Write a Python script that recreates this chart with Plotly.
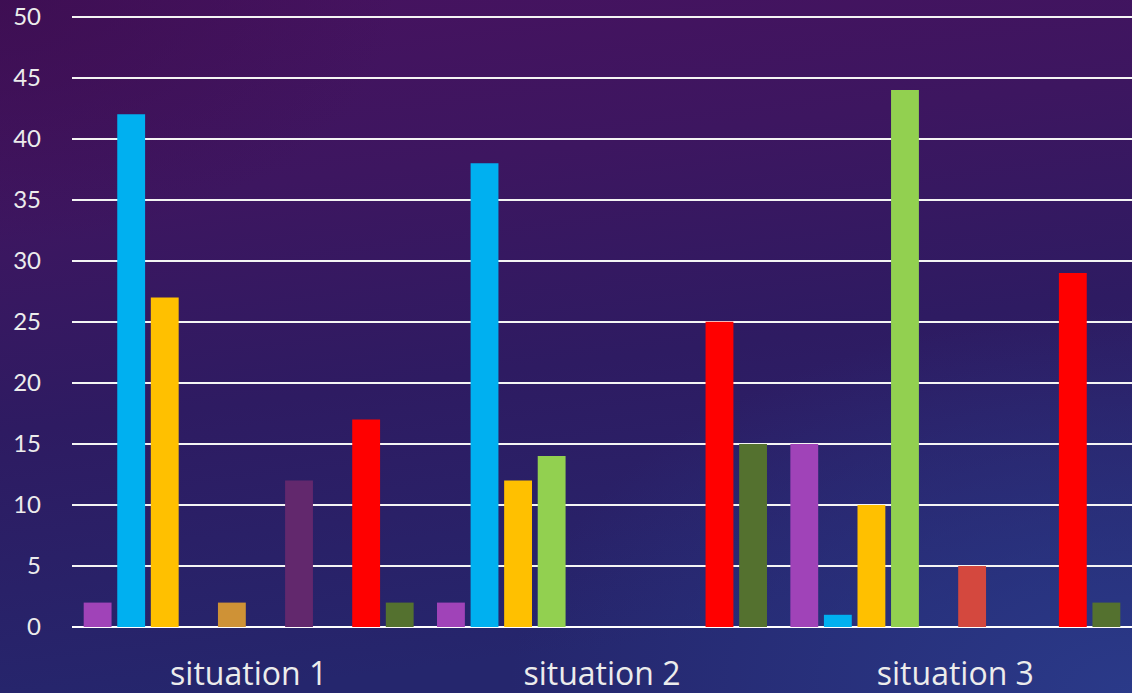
import base64
import plotly.graph_objects as go

categories = ["situation 1", "situation 2", "situation 3"]

s1 = [2, 2, 15]
s2 = [42, 38, 1]
s3 = [27, 12, 10]
s4 = [0, 14, 44]
s5 = [2, 0, 0]
s6 = [0, 0, 5]
s7 = [12, 0, 0]
s8 = [0, 0, 0]
s9 = [17, 25, 29]
s10 = [2, 15, 2]
yticks = [0, 5, 10, 15, 20, 25, 30, 35, 40, 45, 50]

series = [s1, s2, s3, s4, s5, s6, s7, s8, s9, s10]
colors = ["#a043b8", "#00b0f0", "#ffc000", "#92d050", "#cf9236",
          "#d4483e", "#62286d", "#7030a0", "#ff0000", "#54712f"]

W, H = 1132, 693
ml, mr, mt, mb = 72, 0, 13, 66
ymax = 50.3
pw, ph = W - ml - mr, H - mt - mb

svg = f'''<svg xmlns="http://www.w3.org/2000/svg" width="{W}" height="{H}" viewBox="0 0 {W} {H}" preserveAspectRatio="none">
<defs>
<linearGradient id="g" x1="0" y1="0" x2="0.2" y2="1">
<stop offset="0" stop-color="#47125f"/>
<stop offset="0.3" stop-color="#3d1660"/>
<stop offset="0.6" stop-color="#2e1b62"/>
<stop offset="1" stop-color="#25266d"/>
</linearGradient>
<radialGradient id="r" cx="1" cy="1" r="0.55">
<stop offset="0" stop-color="#2b3c8c" stop-opacity="0.9"/>
<stop offset="1" stop-color="#2b3c8c" stop-opacity="0"/>
</radialGradient>
<radialGradient id="r2" cx="0" cy="0" r="0.35">
<stop offset="0" stop-color="#3a0d4e" stop-opacity="0.7"/>
<stop offset="1" stop-color="#3a0d4e" stop-opacity="0"/>
</radialGradient>
</defs>
<rect width="{W}" height="{H}" fill="url(#g)"/>
<rect width="{W}" height="{H}" fill="url(#r)"/>
<rect width="{W}" height="{H}" fill="url(#r2)"/>
</svg>'''
src = "data:image/svg+xml;base64," + base64.b64encode(svg.encode()).decode()

fig = go.Figure()
for i, vals in enumerate(series):
    fig.add_trace(go.Bar(x=categories, y=vals, marker_color=colors[i],
                         marker_line_width=0, name=f"Series {i+1}",
                         showlegend=False))

fig.update_layout(
    width=W, height=H,
    margin=dict(l=ml, r=mr, t=mt, b=mb, pad=0),
    paper_bgcolor="#2a1a60",
    plot_bgcolor="rgba(0,0,0,0)",
    barmode="group",
    bargap=0.05,
    bargroupgap=0.17,
    font=dict(family="Open Sans, Lato, sans-serif", color="#ececec"),
    images=[dict(source=src, xref="paper", yref="paper",
                 x=-ml / pw, y=1 + mt / ph, sizex=W / pw, sizey=H / ph,
                 xanchor="left", yanchor="top", sizing="stretch",
                 layer="below")],
)
fig.update_yaxes(range=[0, ymax], tickvals=yticks, automargin=False,
                 showgrid=True, gridcolor="#f4f4f4",
                 gridwidth=2, zeroline=True, zerolinecolor="#ffffff",
                 zerolinewidth=2,
                 tickfont=dict(family="Lato, Open Sans, sans-serif", size=24, color="#ececec"),
                 ticklabelstandoff=30, ticklabeloverflow="allow",
                 showline=False, fixedrange=True)
fig.update_xaxes(showgrid=False, showline=False, automargin=False,
                 tickfont=dict(size=32, color="#ececec"),
                 ticklabelstandoff=25, ticklabeloverflow="allow")

fig.write_html("out.html")
